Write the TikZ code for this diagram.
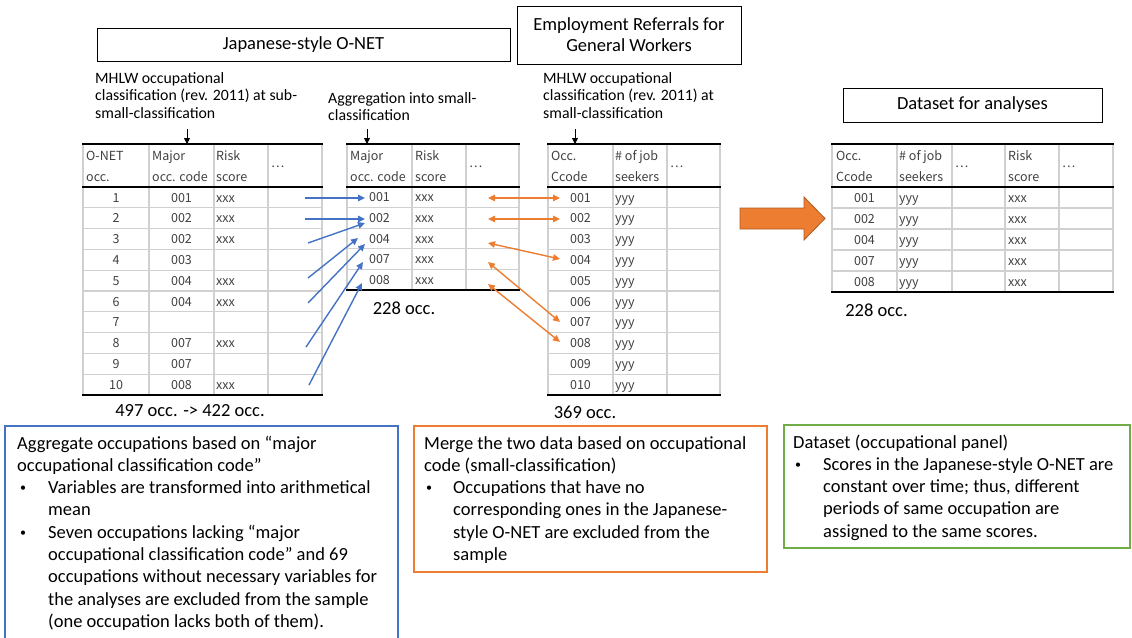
\documentclass[tikz,border=0pt]{standalone}
\usepackage{fontspec}
\setmainfont{Carlito}
\newfontfamily\tabfont{Noto Sans CJK JP}
\usetikzlibrary{arrows.meta}
\definecolor{oblue}{HTML}{4472C4}
\definecolor{oorange}{HTML}{ED7D31}
\definecolor{ogreen}{HTML}{70AD47}
\definecolor{gridgray}{HTML}{D0D0D0}
\definecolor{txtgray}{HTML}{404040}
\definecolor{arrowedge}{HTML}{AE5A21}
\tikzset{
 big/.style={font=\fontsize{18.5}{22.3}\selectfont, inner sep=0pt},
 bulletmark/.style={font=\fontsize{12}{12}\selectfont, inner sep=0pt},
 small/.style={font=\fontsize{15.8}{17.5}\selectfont, inner sep=0pt},
 cell/.style={font=\tabfont\fontsize{12.5}{15}\selectfont, text=txtgray, inner sep=0pt},
 titlebox/.style={draw=black, line width=1pt, inner sep=0pt, align=center, font=\fontsize{18.5}{21}\selectfont},
 gridline/.style={draw=gridgray, line width=1.3pt},
 rulebar/.style={draw=black, line width=1.8pt},
 barrow/.style={draw=oblue, line width=1.4pt, -{Triangle[length=7pt,width=6.5pt]}},
 oarrow/.style={draw=oorange, line width=1.4pt, {Triangle[length=7pt,width=6.5pt]}-{Triangle[length=7pt,width=6.5pt]}},
 karrow/.style={draw=black, line width=0.8pt, -{Triangle[length=6pt,width=6pt]}},
 bluebox/.style={draw=oblue, line width=1.3pt},
 orangebox/.style={draw=oorange, line width=1.3pt},
 greenbox/.style={draw=ogreen, line width=1.3pt},
}
\begin{document}
\begin{tikzpicture}[x=1pt,y=-1pt]
\useasboundingbox (0,0) rectangle (1132,637);

% ---------- title boxes ----------
\node[titlebox, minimum width=413, minimum height=33] (onet) at (303.5,44.5) {Japanese-style O-NET};
\node[titlebox, minimum width=224, minimum height=58] (empl) at (629,35) {Employment Referrals for\\General Workers};
\node[titlebox, minimum width=259, minimum height=34] (dset) at (972.5,105) {Dataset for analyses};

% ---------- captions above tables ----------
\node[small, anchor=base west] (capL1) at (95,83) {MHLW occupational};
\node[small, anchor=base west] (capL2) at (95,100.5) {classification (rev. 2011) at sub-};
\node[small, anchor=base west] (capL3) at (95,118) {small-classification};
\node[small, anchor=base west] (capM1) at (328,103) {Aggregation into small-};
\node[small, anchor=base west] (capM2) at (328,120.5) {classification};
\node[small, anchor=base west] (capR1) at (543,83) {MHLW occupational};
\node[small, anchor=base west] (capR2) at (543,100.5) {classification (rev. 2011) at};
\node[small, anchor=base west] (capR3) at (543,118) {small-classification};

\coordinate (k1s) at (187,129); \coordinate (k1e) at (187,144);
\coordinate (k2s) at (367,129); \coordinate (k2e) at (367,144);
\coordinate (k3s) at (575,129); \coordinate (k3e) at (575,144);
\draw[karrow] (k1s) -- (k1e);
\draw[karrow] (k2s) -- (k2e);
\draw[karrow] (k3s) -- (k3e);

% ---------- left table ----------
\foreach \x in {83,149,214,268,322} \draw[gridline] (\x,144) -- (\x,395);
\foreach \r in {1,...,9} \draw[gridline] (83,{187+\r*20.8}) -- (322,{187+\r*20.8});
\draw[rulebar] (82,144) -- (323,144);
\draw[rulebar] (82,187) -- (323,187);
\draw[rulebar] (82,395) -- (323,395);
\node[cell, anchor=base west] (Lh1) at (86,160) {O-NET};
\node[cell, anchor=base west] (Lh1b) at (86,181) {occ.};
\node[cell, anchor=base west] (Lh2) at (152,160) {Major};
\node[cell, anchor=base west] (Lh2b) at (152,181) {occ. code};
\node[cell, anchor=base west] (Lh3) at (216,160) {Risk};
\node[cell, anchor=base west] (Lh3b) at (216,181) {score};
\node[cell, anchor=base west] (Lh4) at (271,167) {…};
\foreach \r/\n/\c/\s in {1/1/001/xxx, 2/2/002/xxx, 3/3/002/xxx, 4/4/003/{}, 5/5/004/xxx, 6/6/004/xxx, 7/7/{}/{}, 8/8/007/xxx, 9/9/007/{}, 10/10/008/xxx}{
  \node[cell, anchor=base] (La\r) at (116,{187+(\r-0.5)*20.8+4.6}) {\n};
  \node[cell, anchor=base] (Lb\r) at (181.5,{187+(\r-0.5)*20.8+4.6}) {\c};
  \node[cell, anchor=base west] (Lc\r) at (216,{187+(\r-0.5)*20.8+4.6}) {\s};
}

% ---------- middle table ----------
\foreach \x in {347,412,466,519} \draw[gridline] (\x,144) -- (\x,290);
\foreach \r in {1,...,4} \draw[gridline] (347,{187+\r*20.6}) -- (519,{187+\r*20.6});
\draw[rulebar] (346,144) -- (520,144);
\draw[rulebar] (346,187) -- (520,187);
\draw[rulebar] (346,290) -- (520,290);
\node[cell, anchor=base west] (Mh1) at (350,160) {Major};
\node[cell, anchor=base west] (Mh1b) at (350,181) {occ. code};
\node[cell, anchor=base west] (Mh2) at (415,160) {Risk};
\node[cell, anchor=base west] (Mh2b) at (415,181) {score};
\node[cell, anchor=base west] (Mh3) at (469,167) {…};
\foreach \r/\c in {1/001, 2/002, 3/004, 4/007, 5/008}{
  \node[cell, anchor=base] (Ma\r) at (379.5,{187+(\r-0.5)*20.6+4.6}) {\c};
  \node[cell, anchor=base west] (Mb\r) at (415,{187+(\r-0.5)*20.6+4.6}) {xxx};
}
\node[big, anchor=base] (cntM) at (404,314) {228 occ.};

% ---------- employment table ----------
\foreach \x in {548,613,667,720} \draw[gridline] (\x,144) -- (\x,395);
\foreach \r in {1,...,9} \draw[gridline] (548,{187+\r*20.8}) -- (720,{187+\r*20.8});
\draw[rulebar] (547,144) -- (721,144);
\draw[rulebar] (547,187) -- (721,187);
\draw[rulebar] (547,395) -- (721,395);
\node[cell, anchor=base west] (Eh1) at (551,160) {Occ.};
\node[cell, anchor=base west] (Eh1b) at (551,181) {Ccode};
\node[cell, anchor=base west] (Eh2) at (615,160) {\# of job};
\node[cell, anchor=base west] (Eh2b) at (615,181) {seekers};
\node[cell, anchor=base west] (Eh3) at (670,167) {…};
\foreach \r/\c in {1/001, 2/002, 3/003, 4/004, 5/005, 6/006, 7/007, 8/008, 9/009, 10/010}{
  \node[cell, anchor=base] (Ea\r) at (580.5,{187+(\r-0.5)*20.8+4.6}) {\c};
  \node[cell, anchor=base west] (Eb\r) at (615,{187+(\r-0.5)*20.8+4.6}) {yyy};
}
\node[big, anchor=base] (cntE) at (585,418) {369 occ.};
\node[big, anchor=base] (cntL) at (190,416) {497 occ. -> 422 occ.};

% ---------- dataset table ----------
\foreach \x in {832,897,952,1005,1059,1113} \draw[gridline] (\x,144) -- (\x,292);
\foreach \r in {1,...,4} \draw[gridline] (832,{187+\r*21}) -- (1113,{187+\r*21});
\draw[rulebar] (831,144) -- (1114,144);
\draw[rulebar] (831,187) -- (1114,187);
\draw[rulebar] (831,292) -- (1114,292);
\node[cell, anchor=base west] (Dh1) at (836,160) {Occ.};
\node[cell, anchor=base west] (Dh1b) at (836,181) {Ccode};
\node[cell, anchor=base west] (Dh2) at (899,160) {\# of job};
\node[cell, anchor=base west] (Dh2b) at (899,181) {seekers};
\node[cell, anchor=base west] (Dh3) at (955,167) {…};
\node[cell, anchor=base west] (Dh4) at (1008,160) {Risk};
\node[cell, anchor=base west] (Dh4b) at (1008,181) {score};
\node[cell, anchor=base west] (Dh5) at (1062,167) {…};
\foreach \r/\c in {1/001, 2/002, 3/004, 4/007, 5/008}{
  \node[cell, anchor=base] (Da\r) at (864.5,{187+(\r-0.5)*21+4.6}) {\c};
  \node[cell, anchor=base west] (Db\r) at (899,{187+(\r-0.5)*21+4.6}) {yyy};
  \node[cell, anchor=base west] (Dc\r) at (1008,{187+(\r-0.5)*21+4.6}) {xxx};
}
\node[big, anchor=base] (cntD) at (876.5,316) {228 occ.};

% ---------- big arrow ----------
\fill[oorange, draw=arrowedge, line width=0.8pt] (740,208) -- (804,208) -- (804,197) -- (825,218.5) -- (804,240) -- (804,229) -- (740,229) -- cycle;

% ---------- blue aggregation arrows ----------
\coordinate (b1s) at (305,198); \coordinate (b1e) at (365,198);
\coordinate (b2s) at (305,219); \coordinate (b2e) at (365,219);
\coordinate (b3s) at (308,243); \coordinate (b3e) at (365,223);
\coordinate (b4s) at (308,278); \coordinate (b4e) at (358,238);
\coordinate (b5s) at (308,303); \coordinate (b5e) at (365,244);
\coordinate (b6s) at (306,347); \coordinate (b6e) at (363,262);
\coordinate (b7s) at (309,385); \coordinate (b7e) at (362,283);
\foreach \i in {1,...,7} \draw[barrow] (b\i s) -- (b\i e);

% ---------- orange merge arrows ----------
\coordinate (o1s) at (488,198); \coordinate (o1e) at (560,198);
\coordinate (o2s) at (488,219); \coordinate (o2e) at (560,219);
\coordinate (o3s) at (488,243); \coordinate (o3e) at (560,259);
\coordinate (o4s) at (488,262); \coordinate (o4e) at (560,322);
\coordinate (o5s) at (488,284); \coordinate (o5e) at (560,342);
\foreach \i in {1,...,5} \draw[oarrow] (o\i s) -- (o\i e);

% ---------- bottom boxes ----------
\draw[bluebox] (5,642) -- (5,426) -- (398,426) -- (398,642);
\draw[orangebox] (414,426) rectangle (767,572);
\draw[greenbox] (784,425) rectangle (1130,548);

\node[big, anchor=base west] (t1) at (17,449) {Aggregate occupations based on “major};
\node[big, anchor=base west] (t2) at (17,471.3) {occupational classification code”};
\node[bulletmark, anchor=base west] (t3d) at (20,491.6) {•};
\node[big, anchor=base west] (t3) at (48,493.6) {Variables are transformed into arithmetical};
\node[big, anchor=base west] (t4) at (48,515.9) {mean};
\node[bulletmark, anchor=base west] (t5d) at (20,536.2) {•};
\node[big, anchor=base west] (t5) at (48,538.2) {Seven occupations lacking “major};
\node[big, anchor=base west] (t6) at (48,560.5) {occupational classification code” and 69};
\node[big, anchor=base west] (t7) at (48,582.8) {occupations without necessary variables for};
\node[big, anchor=base west] (t8) at (48,605.1) {the analyses are excluded from the sample};
\node[big, anchor=base west] (t9) at (48,627.4) {(one occupation lacks both of them).};

\node[big, anchor=base west] (u1) at (424,449) {Merge the two data based on occupational};
\node[big, anchor=base west] (u2) at (424,471.3) {code (small-classification)};
\node[bulletmark, anchor=base west] (u3d) at (426,491.6) {•};
\node[big, anchor=base west] (u3) at (453,493.6) {Occupations that have no};
\node[big, anchor=base west] (u4) at (453,515.9) {corresponding ones in the Japanese-};
\node[big, anchor=base west] (u5) at (453,538.2) {style O-NET are excluded from the};
\node[big, anchor=base west] (u6) at (453,560.5) {sample};

\node[big, anchor=base west] (v1) at (793,448) {Dataset (occupational panel)};
\node[bulletmark, anchor=base west] (v2d) at (795,468.3) {•};
\node[big, anchor=base west] (v2) at (823,470.3) {Scores in the Japanese-style O-NET are};
\node[big, anchor=base west] (v3) at (823,492.6) {constant over time; thus, different};
\node[big, anchor=base west] (v4) at (823,514.9) {periods of same occupation are};
\node[big, anchor=base west] (v5) at (823,537.2) {assigned to the same scores.};
\end{tikzpicture}
\end{document}
